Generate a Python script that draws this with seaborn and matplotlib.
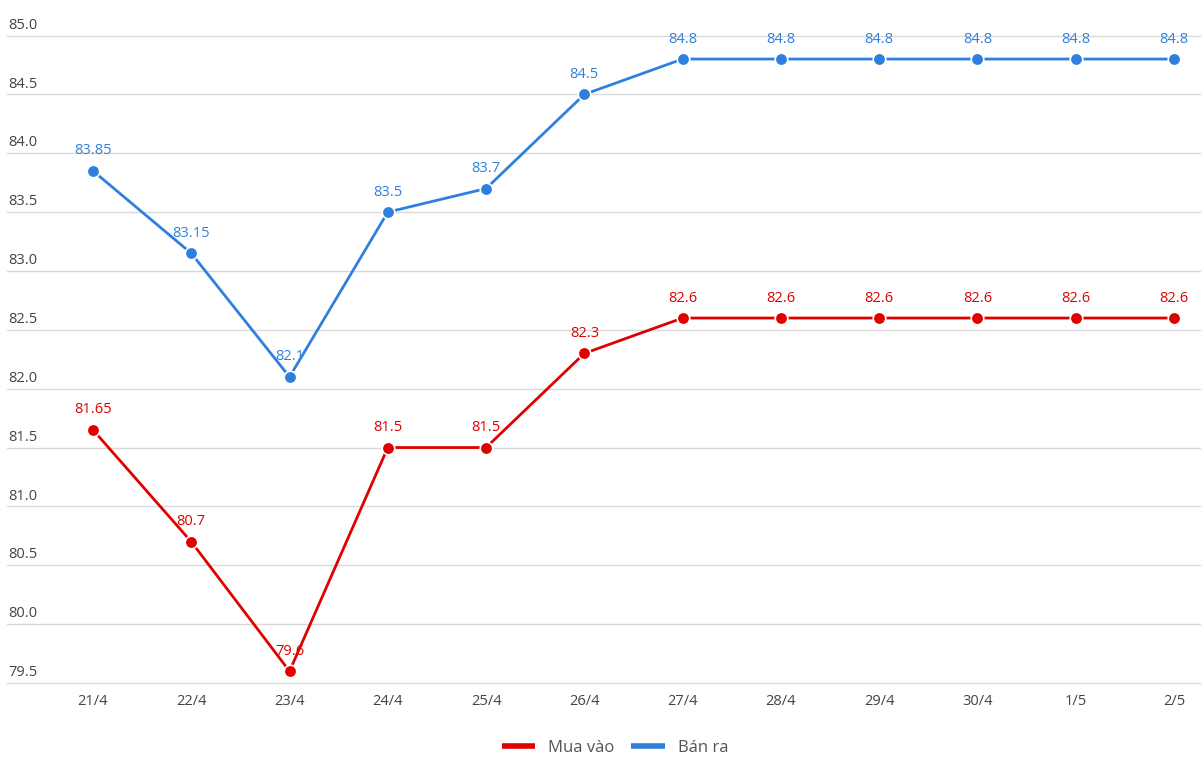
import matplotlib
matplotlib.use("Agg")
import matplotlib.pyplot as plt
import matplotlib.transforms as mtransforms
from matplotlib.lines import Line2D
import seaborn as sns
import pandas as pd

dates = ["21/4", "22/4", "23/4", "24/4", "25/4", "26/4", "27/4", "28/4", "29/4", "30/4", "1/5", "2/5"]
mua_vao = [81.65, 80.7, 79.6, 81.5, 81.5, 82.3, 82.6, 82.6, 82.6, 82.6, 82.6, 82.6]
ban_ra = [83.85, 83.15, 82.1, 83.5, 83.7, 84.5, 84.8, 84.8, 84.8, 84.8, 84.8, 84.8]
series_names = ["Mua vào", "Bán ra"]
y_ticks = [79.5, 80.0, 80.5, 81.0, 81.5, 82.0, 82.5, 83.0, 83.5, 84.0, 84.5, 85.0]

colors = {"Mua vào": "#e00000", "Bán ra": "#2f80de"}

sns.set_theme(style="white")
plt.rcParams["font.family"] = ["Open Sans", "DejaVu Sans"]

W, H = 1201, 767
fig = plt.figure(figsize=(W / 100, H / 100), dpi=100)
y_top_px, y_bot_px = 35.5, 683.0
pad = 0.02
px_per_unit = (y_bot_px - y_top_px) / 5.5
ax = fig.add_axes([7 / W, 1 - (y_bot_px + pad * px_per_unit) / H, (W - 7) / W,
                   (y_bot_px - y_top_px + 2 * pad * px_per_unit) / H])

df = pd.DataFrame({
    "x": list(range(len(dates))) * 2,
    "value": mua_vao + ban_ra,
    "series": [series_names[0]] * len(dates) + [series_names[1]] * len(dates),
})

sns.lineplot(data=df, x="x", y="value", hue="series", palette=colors, ax=ax,
             marker="o", markersize=9, markeredgecolor="white", markeredgewidth=1.2,
             linewidth=2.0, legend=False)

ax.set_xlim(-0.875, 11.275)
ax.set_ylim(79.5 - pad, 85.0 + pad)
ax.set_yticks(y_ticks)
ax.set_yticklabels([])
ax.tick_params(axis="y", length=0)
ax.grid(axis="y", color="#d9d9d9", linewidth=1)
ax.grid(axis="x", visible=False)
for s in ax.spines.values():
    s.set_visible(False)
ax.set_xlabel("")
ax.set_ylabel("")
ax.set_xticks(range(len(dates)))
ax.set_xticklabels(dates, fontsize=10.5, color="#444444")
ax.tick_params(axis="x", length=0, pad=6)

trans = mtransforms.blended_transform_factory(ax.transAxes, ax.transData)
for v in y_ticks:
    ax.annotate(f"{v:.1f}", (0.0, v), xycoords=trans, xytext=(1, 2), textcoords="offset points",
                ha="left", va="bottom", fontsize=10.5, color="#444444")

def fmt(v):
    return f"{v:.2f}".rstrip("0").rstrip(".")

for name, vals in zip(series_names, [mua_vao, ban_ra]):
    for i, v in enumerate(vals):
        ax.annotate(fmt(v), (i, v), xytext=(0, 9), textcoords="offset points",
                    ha="center", va="bottom", fontsize=10.5, color=colors[name])

handles = [Line2D([0], [0], color=colors[n], linewidth=4, solid_capstyle="butt") for n in series_names]
fig.legend(handles, series_names, loc="center", bbox_to_anchor=(615 / W, 1 - 748 / H),
           ncol=2, frameon=False, fontsize=12, handlelength=2.0, handletextpad=0.8,
           columnspacing=1.0, labelcolor="#555555")

fig.savefig("out.png", dpi=100)
